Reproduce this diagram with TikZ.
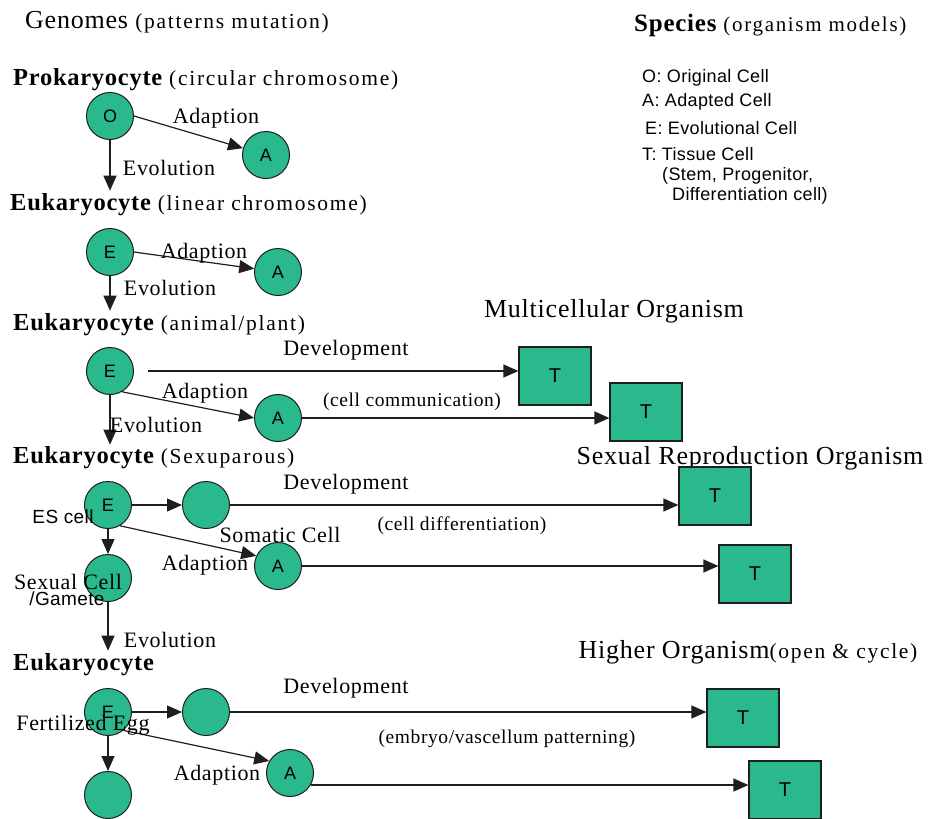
\documentclass[tikz,border=0pt]{standalone}
\usepackage{fontspec}
\setmainfont{Liberation Serif}[LetterSpace=3]
\setsansfont{Liberation Sans}[LetterSpace=2]
\newfontfamily\spacedserif{Liberation Serif}[LetterSpace=8]
\usetikzlibrary{arrows.meta, positioning, calc}
\definecolor{cellgreen}{RGB}{42,185,140}
\definecolor{edgegray}{RGB}{30,30,30}
\newcommand{\paren}{\spacedserif\fontsize{21.5}{24}\mdseries\selectfont}

\begin{document}
\begin{tikzpicture}[
    x=1pt, y=-1pt,
    cell/.style={circle, draw=edgegray, line width=1pt, fill=cellgreen, minimum size=47pt, inner sep=0pt, font=\sffamily\fontsize{18}{20}\selectfont},
    tissue/.style={rectangle, draw=edgegray, line width=1.2pt, fill=cellgreen, minimum width=72pt, minimum height=58pt, inner sep=0pt, font=\sffamily\fontsize{20}{22}\selectfont},
    arrow/.style={-{Triangle[length=15pt, width=13pt]}, line width=1.2pt, edgegray},
    stage/.style={anchor=west, inner sep=0pt, font=\fontsize{24.5}{26}\bfseries\selectfont},
    organism/.style={inner sep=0pt, font=\fontsize{26}{28}\selectfont},
    lbl/.style={inner sep=0pt, font=\fontsize{22}{24}\selectfont},
    note/.style={inner sep=0pt, font=\fontsize{19.5}{22}\selectfont},
    legend/.style={anchor=west, inner sep=0pt, font=\sffamily\fontsize{18}{20}\selectfont}
]
    \useasboundingbox (0,0) rectangle (935,819);

    % Headings
    \node[organism, anchor=west] (genomes) at (25,22) {Genomes {\paren(patterns mutation)}};
    \node[inner sep=0pt, anchor=west, font=\fontsize{25}{26}\bfseries\selectfont] (species) at (634,25) {Species {\paren\fontsize{21}{22}\selectfont(organism models)}};

    % Legend
    \node[legend] (lgO) at (642,78) {O: Original Cell};
    \node[legend] (lgA) at (642,102) {A: Adapted Cell};
    \node[legend] (lgE) at (645,128) {E: Evolutional Cell};
    \node[legend] (lgT) at (642,154) {T: Tissue Cell};
    \node[legend] (lgT2) at (662,176) {(Stem, Progenitor,};
    \node[legend] (lgT3) at (672,196) {Differentiation cell)};

    % Prokaryocyte
    \node[stage] (prok) at (13,80) {Prokaryocyte {\paren(circular chromosome)}};
    \node[cell] (O) at (110,116) {O};
    \node[cell] (A1) at (266,155) {A};
    \draw[arrow] (O.east) -- (A1);
    \node[lbl] at (216,118) {Adaption};

    % Eukaryocyte, linear chromosome
    \node[stage] (euk1) at (10,205) {Eukaryocyte {\paren(linear chromosome)}};
    \draw[arrow] (O) -- ([yshift=3pt]O |- euk1.north);
    \node[lbl] at (169,168) {Evolution};
    \node[cell] (E1) at (110,252) {E};
    \node[cell] (A2) at (278,272) {A};
    \draw[arrow] (E1.east) -- (A2);
    \node[lbl] at (204,253) {Adaption};

    % Eukaryocyte, animal/plant
    \node[stage] (euk2) at (13,325) {Eukaryocyte {\paren(animal/plant)}};
    \draw[arrow] (E1) -- ([yshift=3pt]E1 |- euk2.north);
    \node[lbl] at (170,288) {Evolution};
    \node[organism] (multi) at (614,311) {Multicellular Organism};
    \node[cell] (E2) at (110,371) {E};
    \node[cell] (A3) at (278,418) {A};
    \node[tissue] (T1) at (555,376) {T};
    \node[tissue] (T2) at (646,412) {T};
    \draw[arrow] ([xshift=14pt]E2.east) -- (E2 -| T1.west);
    \draw[arrow] (E2.-60) -- (A3.west);
    \draw[arrow] (A3.east) -- (A3 -| T2.west);
    \node[lbl] at (346,350) {Development};
    \node[lbl] at (205,393) {Adaption};
    \node[note] at (412,402) {(cell communication)};

    % Eukaryocyte, sexuparous
    \node[stage] (euk3) at (13,458) {Eukaryocyte {\paren(Sexuparous)}};
    \draw[arrow] (E2) -- ([yshift=2pt]E2 |- euk3.north);
    \node[lbl] at (156,425) {Evolution};
    \node[organism] (sexual) at (750,458) {Sexual Reproduction Organism};
    \node[cell] (E3) at (108,505) {E};
    \node[cell] (B3) at (206,505) {};
    \node[cell] (A4) at (278,566) {A};
    \node[cell] (SC) at (108,578) {};
    \node[tissue] (T3) at (715,496) {T};
    \node[tissue] (T4) at (755,574) {T};
    \draw[arrow] (E3) -- (B3);
    \draw[arrow] (B3.east) -- (B3 -| T3.west);
    \draw[arrow] (E3.-60) -- (A4.155);
    \draw[arrow] (A4.east) -- (A4 -| T4.west);
    \draw[arrow] (E3) -- (SC);
    \node[inner sep=0pt, font=\sffamily\fontsize{19}{20}\selectfont] at (63,517) {ES cell};
    \node[lbl] at (346,484) {Development};
    \node[note] at (462,526) {(cell differentiation)};
    \node[lbl] at (280,535) {Somatic Cell};
    \node[lbl] at (205,565) {Adaption};
    \node[lbl] at (68,582) {Sexual Cell};
    \node[inner sep=0pt, font=\sffamily\fontsize{19}{20}\selectfont] at (67,599) {/Gamete};

    % Eukaryocyte, higher organism
    \node[stage] (euk4) at (13,665) {Eukaryocyte};
    \draw[arrow] (SC) -- ([yshift=3pt]SC |- euk4.north);
    \node[lbl] at (170,640) {Evolution};
    \node[organism] (higher) at (748,652) {Higher Organism{\paren(open \& cycle)}};
    \node[cell] (E4) at (108,712) {E};
    \node[cell] (B4) at (206,712) {};
    \node[cell] (A5) at (290,773) {A};
    \node[cell] (BE) at (108,795) {};
    \node[tissue] (T5) at (743,718) {T};
    \node[tissue] (T6) at (785,790) {T};
    \draw[arrow] (E4) -- (B4);
    \draw[arrow] (B4.east) -- (B4 -| T5.west);
    \draw[arrow] (E4.-50) -- (A5.150);
    \draw[arrow] (A5.-30) -- (A5.-30 -| T6.west);
    \draw[arrow] (E4) -- (BE);
    \node[lbl] at (83,725) {Fertilized Egg};
    \node[lbl] at (346,688) {Development};
    \node[note] at (507,739) {(embryo/vascellum patterning)};
    \node[lbl] at (217,775) {Adaption};
\end{tikzpicture}
\end{document}
